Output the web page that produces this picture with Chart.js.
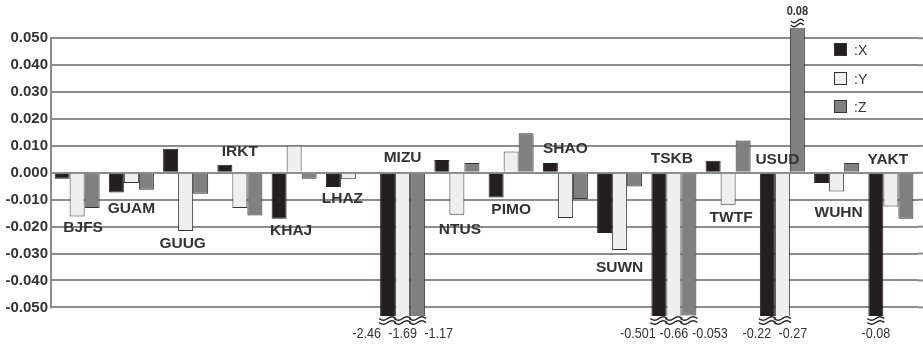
<!DOCTYPE html>
<html>
<head>
<meta charset="utf-8">
<script src="https://cdn.jsdelivr.net/npm/chart.js@4/dist/chart.umd.min.js"></script>
<style>
  html, body { margin: 0; padding: 0; background: #fff; overflow: hidden; }
  #wrap { width: 923px; height: 346px; }
</style>
</head>
<body>
<div id="wrap"><canvas id="myChart" width="923" height="346"></canvas></div>
<script>
const stations = ['BJFS', 'GUAM', 'GUUG', 'IRKT', 'KHAJ', 'LHAZ', 'MIZU', 'NTUS',
                  'PIMO', 'SHAO', 'SUWN', 'TSKB', 'TWTF', 'USUD', 'WUHN', 'YAKT']

const valuesX = [-0.0022, -0.0073, 0.0089, 0.0030, -0.0171, -0.0053, -2.46, 0.0048,
                 -0.0092, 0.0036, -0.0224, -0.501, 0.0045, -0.22, -0.0038, -0.08]
const valuesY = [-0.0162, -0.0038, -0.0216, -0.0131, 0.0101, -0.0024, -1.69, -0.0156,
                 0.0079, -0.0168, -0.0287, -0.66, -0.0119, -0.27, -0.0069, -0.0125]
const valuesZ = [-0.0131, -0.0063, -0.0078, -0.0159, -0.0022, 0, -1.17, 0.0036,
                 0.0147, -0.0097, -0.0051, -0.053, 0.0120, 0.08, 0.0036, -0.0171]

const tickValues = [0.05, 0.04, 0.03, 0.02, 0.01, 0, -0.01, -0.02, -0.03, -0.04, -0.05]

// where the station names sit (value on y, pixel nudge on x from the group centre)
const labelY = [-0.0204, -0.0134, -0.0264, 0.0078, -0.0216, -0.0097, 0.0056, -0.0212,
                -0.0138, 0.0089, -0.0353, 0.0052, -0.0167, 0.0048, -0.0149, 0.0048]
const labelDx = [6, 0, -3, 0, -3, -6, 0, 3, 0, 0, 0, -2, 3, -5, 2, -3]

const legendNames = [':X', ':Y', ':Z']

// wavy break mark
function wave(ctx, x0, x1, yy) {
  ctx.beginPath()
  for (let x = x0; x <= x1; x += 0.5) {
    const yv = yy + Math.sin((x - x0) / (x1 - x0) * Math.PI * 2) * 1.7
    if (x === x0) ctx.moveTo(x, yv); else ctx.lineTo(x, yv)
  }
  ctx.stroke()
}

const extras = {
  id: 'extras',
  beforeDatasetsDraw(chart) {
    const { ctx, chartArea } = chart
    const y = chart.scales.y
    ctx.save()
    ctx.strokeStyle = '#8c8c8c'
    ctx.lineWidth = 2
    // grid runs on to the right edge
    tickValues.forEach(v => {
      const py = y.getPixelForValue(v)
      ctx.beginPath()
      ctx.moveTo(chartArea.right, py)
      ctx.lineTo(chart.width, py)
      ctx.stroke()
    })
    ctx.beginPath()
    ctx.moveTo(chartArea.left + 1, y.getPixelForValue(0.05) - 1)
    ctx.lineTo(chartArea.left + 1, y.getPixelForValue(-0.05) + 1)
    ctx.stroke()
    ctx.restore()
  },
  afterDatasetsDraw(chart) {
    const { ctx, chartArea } = chart
    const x = chart.scales.x
    const y = chart.scales.y
    const lo = Math.min(...tickValues)
    const hi = Math.max(...tickValues)
    ctx.save()

    // station names
    ctx.font = 'bold 15.5px "Liberation Sans", Arial, sans-serif'
    ctx.fillStyle = '#333'
    ctx.textAlign = 'center'
    ctx.textBaseline = 'middle'
    stations.forEach((s, i) => {
      ctx.fillText(s, x.getPixelForValue(i) + labelDx[i], y.getPixelForValue(labelY[i]))
    })

    // broken bars: wavy marks and true values
    ctx.strokeStyle = '#222'
    ctx.lineWidth = 1.4
    stations.forEach((s, i) => {
      const below = []
      const above = []
      chart.data.datasets.forEach((ds, d) => {
        const bar = chart.getDatasetMeta(d).data[i]
        const v = ds.data[i]
        const half = bar.width / 2
        if (v < lo) {
          wave(ctx, bar.x - half - 1, bar.x + half + 1, chartArea.bottom + 2.5)
          wave(ctx, bar.x - half - 1, bar.x + half + 1, chartArea.bottom + 6.5)
          below.push({ x: bar.x, v })
        } else if (v > hi) {
          wave(ctx, bar.x - half + 1, bar.x + half - 1, chartArea.top - 3)
          wave(ctx, bar.x - half + 1, bar.x + half - 1, chartArea.top - 7)
          above.push({ x: bar.x, v })
        }
      })
      ctx.fillStyle = '#333'
      if (below.length) {
        const mid = below.reduce((a, b) => a + b.x, 0) / below.length
        below.forEach((b, k) => {
          const lx = mid + (k - (below.length - 1) / 2) * 36
          ctx.save()
          ctx.translate(lx, chartArea.bottom + 18)
          ctx.scale(0.84, 1)
          ctx.font = '15px "Liberation Sans", Arial, sans-serif'
          ctx.fillText(String(b.v), 0, 0)
          ctx.restore()
        })
      }
      above.forEach(b => {
        ctx.save()
        ctx.translate(b.x, chartArea.top - 17)
        ctx.scale(0.85, 1)
        ctx.font = 'bold 13px "Liberation Sans", Arial, sans-serif'
        ctx.fillText(String(b.v), 0, 0)
        ctx.restore()
      })
    })

    // legend
    const lx = 834
    const ly = [50, 79, 107]
    chart.data.datasets.forEach((ds, d) => {
      ctx.fillStyle = ds.backgroundColor
      ctx.fillRect(lx, ly[d] - 7, 13, 13)
      ctx.strokeStyle = '#333'
      ctx.lineWidth = 1
      ctx.strokeRect(lx + 0.5, ly[d] - 6.5, 12, 12)
      ctx.fillStyle = '#333'
      ctx.textAlign = 'left'
      ctx.font = '14px "Liberation Sans", Arial, sans-serif'
      ctx.fillText(legendNames[d], lx + 20, ly[d] + 1)
    })
    ctx.restore()
  }
}

const ctx = document.getElementById('myChart')

new Chart(ctx, {
  type: 'bar',
  plugins: [extras],
  data: {
    labels: stations,
    datasets: [
      { label: 'X', data: valuesX, backgroundColor: '#231f20', borderColor: '#231f20', borderWidth: 1 },
      { label: 'Y', data: valuesY, backgroundColor: '#efefef', borderColor: '#333', borderWidth: 1 },
      { label: 'Z', data: valuesZ, backgroundColor: '#808080', borderColor: '#333', borderWidth: 1 }
    ]
  },
  options: {
    responsive: false,
    animation: false,
    layout: { padding: { top: 28, bottom: 30, left: 0, right: 5 } },
    datasets: { bar: { barPercentage: 1, categoryPercentage: 0.83, clip: 0 } },
    plugins: { legend: { display: false }, tooltip: { enabled: false } },
    scales: {
      x: { display: false },
      y: {
        min: -0.0532,
        max: 0.0538,
        afterBuildTicks: scale => { scale.ticks = tickValues.map(v => ({ value: v })) },
        afterFit: scale => { scale.width = 50 },
        border: { display: false },
        grid: { color: '#8c8c8c', lineWidth: 2, drawTicks: false },
        ticks: {
          padding: 2,
          color: '#333',
          font: { family: '"Liberation Sans", Arial, sans-serif', size: 15, weight: 'bold' },
          callback: v => v.toFixed(3)
        }
      }
    }
  }
})
</script>
</body>
</html>
